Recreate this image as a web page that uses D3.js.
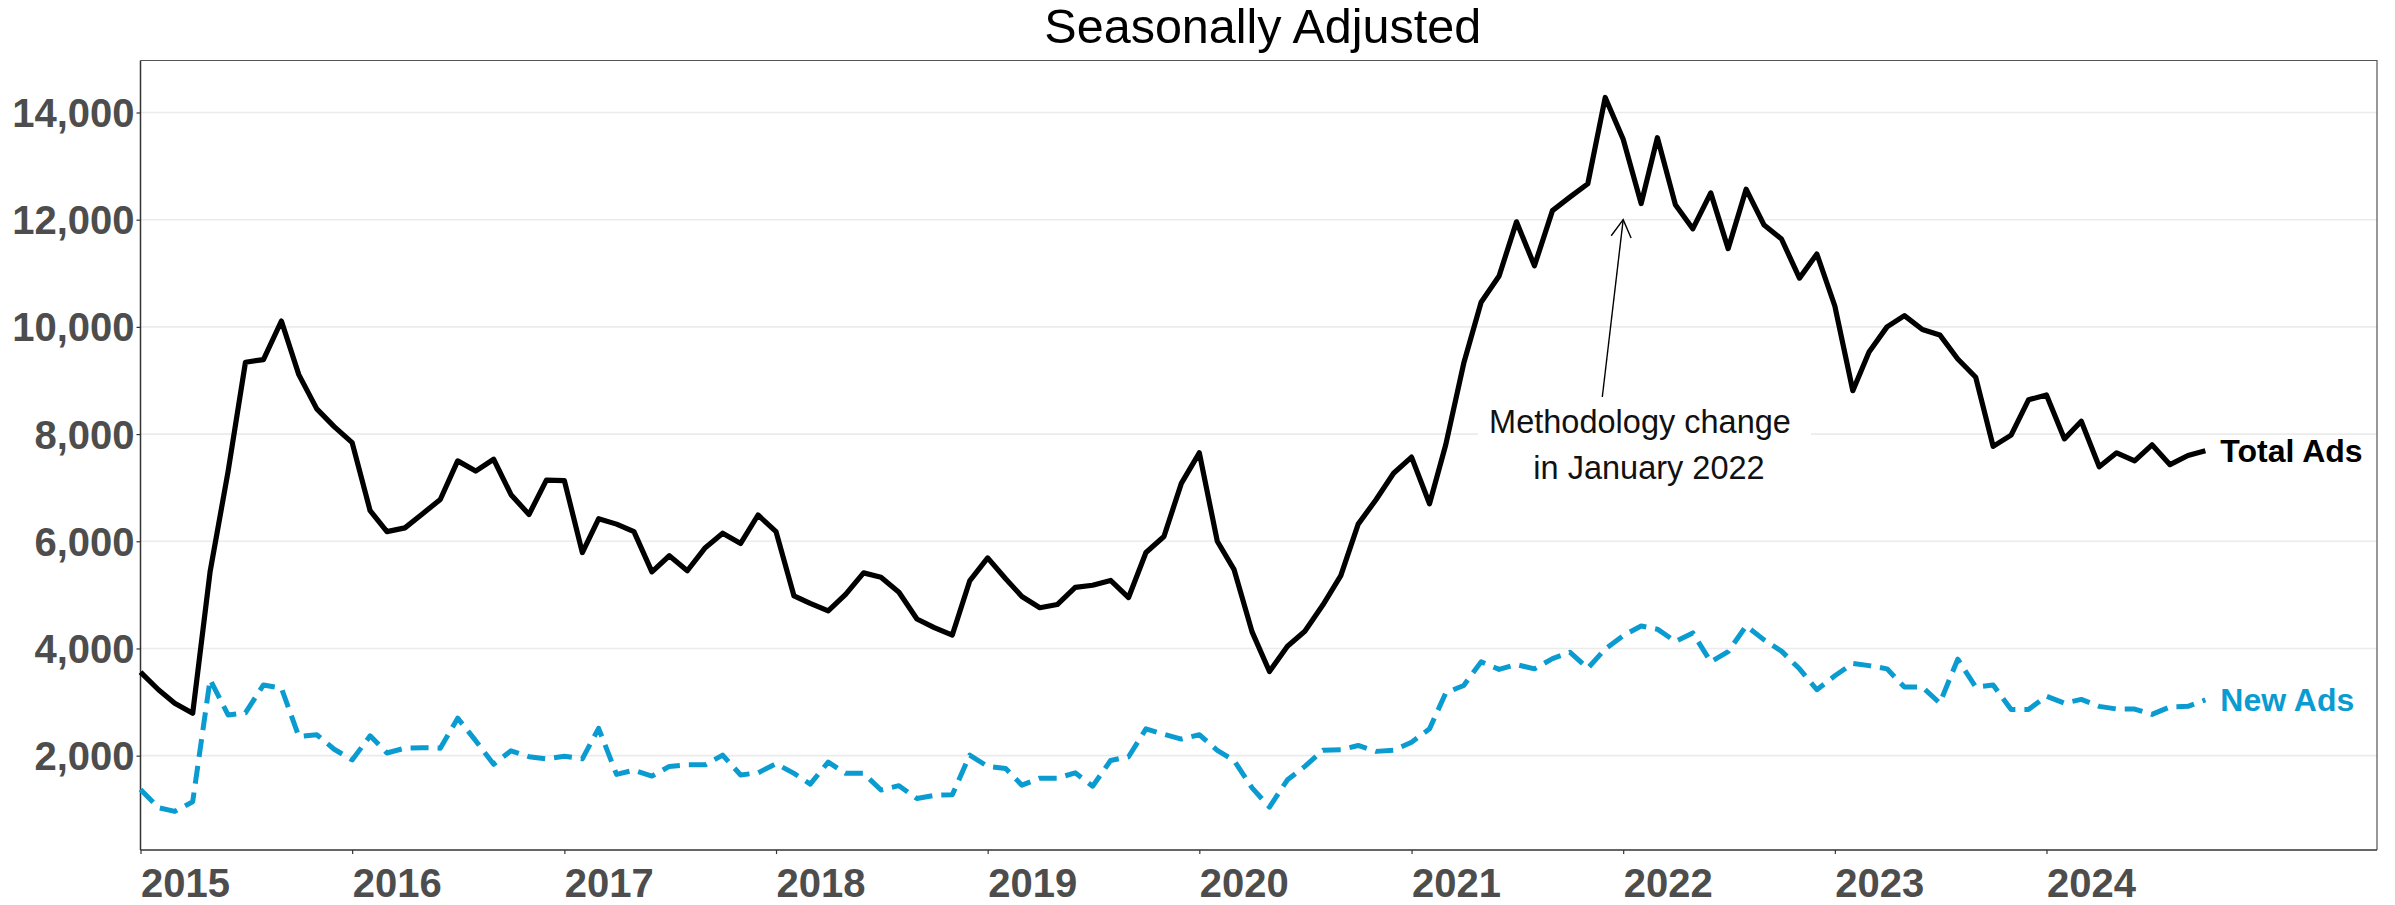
<!DOCTYPE html>
<html><head><meta charset="utf-8">
<script src="https://cdn.jsdelivr.net/npm/d3@7"></script>
<style>
html,body{margin:0;padding:0;background:#fff;}
svg{display:block;font-family:"Liberation Sans",Arial,Helvetica,sans-serif;}
</style>
</head><body>
<svg id="chart" width="2395" height="905"></svg>
<script>
// ---- data (monthly, Jan 2015 .. Oct 2024) ----
const startYear = 2015;
const totalAds = [
  3560,3230,2980,2790,5430,7300,9340,9390,10110,9110,8470,8140,
  7840,6570,6180,6250,6510,6780,7500,7310,7530,6870,6500,7140,
  7130,5790,6420,6320,6180,5430,5730,5450,5880,6150,5960,6490,
  6180,4980,4840,4700,5010,5410,5330,5050,4550,4390,4250,5260,
  5690,5300,4970,4760,4820,5140,5180,5270,4950,5790,6090,7080,
  7650,6000,5470,4310,3570,4040,4320,4810,5360,6320,6780,7270,
  7570,6700,7800,9320,10460,10950,11960,11140,12170,12420,12670,14280,
  13500,12300,13530,12280,11830,12500,11460,12570,11900,11640,10910,11360,
  10390,8810,9530,10000,10210,9950,9850,9400,9060,7770,7980,8640,
  8730,7910,8240,7390,7650,7500,7800,7430,7600,7690
];
const newAds = [
  1370,1030,960,1140,3420,2760,2800,3320,3260,2360,2390,2120,
  1920,2370,2050,2140,2150,2140,2700,2280,1840,2090,1980,1940,
  1990,1940,2510,1650,1730,1620,1800,1830,1830,2010,1640,1680,
  1850,1670,1470,1880,1670,1670,1360,1440,1200,1260,1270,2010,
  1800,1760,1450,1580,1580,1680,1430,1910,1980,2500,2400,2310,
  2390,2100,1910,1400,1040,1550,1800,2100,2110,2190,2080,2100,
  2250,2500,3170,3310,3750,3610,3700,3620,3810,3930,3630,3990,
  4240,4420,4360,4130,4290,3750,3940,4420,4160,3950,3620,3230,
  3490,3720,3680,3620,3280,3280,2980,3800,3280,3320,2860,2860,
  3110,2980,3050,2920,2870,2870,2770,2910,2920,3040
];
const yTicks = [2000,4000,6000,8000,10000,12000,14000];
const xTickYears = [2015,2016,2017,2018,2019,2020,2021,2022,2023,2024];
const titleText = "Seasonally Adjusted";
const annotationLines = ["Methodology change","in January 2022"];
const seriesNames = ["Total Ads","New Ads"];
const seriesColors = ["#000000","#0A9BD1"];

const months = totalAds.map((_, i) => new Date(Date.UTC(startYear, i, 1)));

// ---- layout ----
const L = 140.5, R = 2377, T = 60.5, B = 850;

const svg = d3.select("#chart");
const x = d3.scaleUtc()
  .domain([new Date(Date.UTC(2015,0,1)), new Date(Date.UTC(2025,6,24))])
  .range([L, R]);
const y = d3.scaleLinear().domain([240, 14970]).range([B, T]);

// gridlines
svg.append("g").selectAll("line").data(yTicks).join("line")
  .attr("x1", L).attr("x2", R)
  .attr("y1", d => y(d)).attr("y2", d => y(d))
  .attr("stroke", "#ebebeb").attr("stroke-width", 1.6);

// panel border (top/right)
svg.append("path")
  .attr("d", `M${L},${T}H${R}V${B}`)
  .attr("fill", "none").attr("stroke", "#555").attr("stroke-width", 1.2);

// y axis
const yAxis = svg.append("g").attr("transform", `translate(${L},0)`)
  .call(d3.axisLeft(y).tickValues(yTicks).tickSize(4).tickSizeOuter(0).tickFormat(d3.format(",")));
yAxis.select(".domain").attr("stroke", "#333").attr("stroke-width", 1.5)
  .attr("d", `M0,${T}V${B}`);
yAxis.selectAll(".tick line").attr("stroke", "#333").attr("stroke-width", 1.2);
yAxis.selectAll(".tick text")
  .attr("x", -6).attr("dy", "0.35em")
  .attr("fill", "#4d4d4d").style("font-size", "40px").style("font-weight", "bold")
  .style("font-family", '"Liberation Sans",Arial,sans-serif');

// x axis
const xAxis = svg.append("g").attr("transform", `translate(0,${B})`)
  .call(d3.axisBottom(x).tickValues(xTickYears.map(yr => new Date(Date.UTC(yr,0,1))))
    .tickSize(4).tickSizeOuter(0).tickFormat(d3.utcFormat("%Y")));
xAxis.select(".domain").attr("stroke", "#333").attr("stroke-width", 1.5)
  .attr("d", `M${L},0H${R}`);
xAxis.selectAll(".tick line").attr("stroke", "#333").attr("stroke-width", 1.2);
xAxis.selectAll(".tick text")
  .attr("y", 47).attr("dy", 0).attr("text-anchor", "start")
  .attr("fill", "#4d4d4d").style("font-size", "40px").style("font-weight", "bold")
  .style("font-family", '"Liberation Sans",Arial,sans-serif');

// title
svg.append("text").attr("x", (L + R) / 2 + 4).attr("y", 43)
  .attr("text-anchor", "middle").style("font-size", "48.5px").attr("fill", "#000")
  .text(titleText);

// lines
const line = d3.line().x((d, i) => x(months[i])).y(d => y(d));
svg.append("path").datum(newAds)
  .attr("d", line).attr("fill", "none")
  .attr("stroke", seriesColors[1]).attr("stroke-width", 5)
  .attr("stroke-dasharray", "18,9").attr("stroke-linejoin", "round");
svg.append("path").datum(totalAds)
  .attr("d", line).attr("fill", "none")
  .attr("stroke", seriesColors[0]).attr("stroke-width", 5.2)
  .attr("stroke-linejoin", "round");

// end labels
[totalAds, newAds].forEach((arr, k) => {
  const n = arr.length - 1;
  svg.append("text")
    .attr("x", x(months[n]) + 15).attr("y", y(arr[n]))
    .attr("dy", "0.36em")
    .attr("fill", seriesColors[k]).style("font-size", "32px").style("font-weight", "bold")
    .text(seriesNames[k]);
});

// annotation label (white background) + arrow
const ax = x(new Date(Date.UTC(2022,0,1)));
svg.append("rect").attr("x", 1478).attr("y", 398).attr("width", 333).attr("height", 100)
  .attr("fill", "#fff");
const ann = svg.append("text").style("font-size", "32.5px").attr("fill", "#111")
  .attr("text-anchor", "middle");
ann.append("tspan").attr("x", 1640).attr("y", 433).text(annotationLines[0]);
ann.append("tspan").attr("x", 1649).attr("y", 479).text(annotationLines[1]);

const tip = [ax, y(12000)];
const tail = [1602.3, 397];
svg.append("line").attr("x1", tail[0]).attr("y1", tail[1]).attr("x2", tip[0]).attr("y2", tip[1])
  .attr("stroke", "#000").attr("stroke-width", 1.4);
const ang = Math.atan2(tip[1] - tail[1], tip[0] - tail[0]);
const hl = 20, ha = Math.PI / 6;
const p1 = [tip[0] - hl * Math.cos(ang - ha), tip[1] - hl * Math.sin(ang - ha)];
const p2 = [tip[0] - hl * Math.cos(ang + ha), tip[1] - hl * Math.sin(ang + ha)];
svg.append("path").attr("d", `M${p1}L${tip}L${p2}`)
  .attr("fill", "none").attr("stroke", "#000").attr("stroke-width", 1.4);
</script>
</body></html>
